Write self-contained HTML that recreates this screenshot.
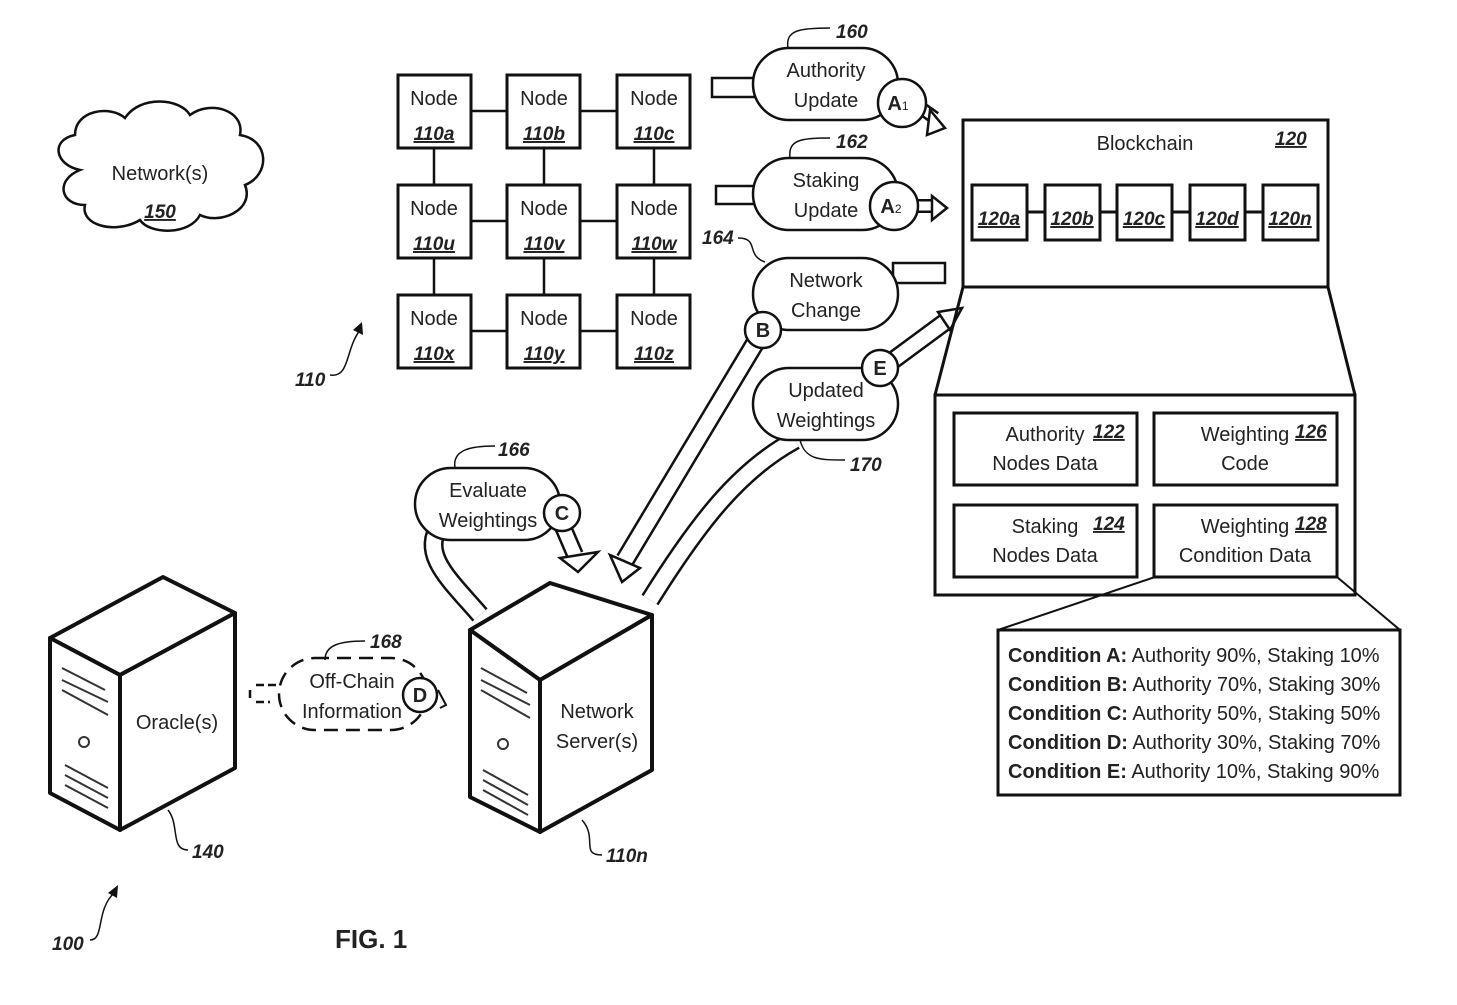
<!DOCTYPE html>
<html><head><meta charset="utf-8"><style>
html,body{margin:0;padding:0;background:#fff}
svg{display:block}
text{font-family:"Liberation Sans",Arial,sans-serif;fill:#222}
.t{font-size:20px;text-anchor:middle}
.l{font-size:19px;font-style:italic;font-weight:bold;text-decoration:underline}
.r{font-size:19px;font-style:italic;font-weight:bold}
.c{font-size:20px}
</style></head><body>
<svg width="1457" height="1005" viewBox="0 0 1457 1005" xmlns="http://www.w3.org/2000/svg">
<g fill="none" stroke="#111" stroke-width="2.5">
<!-- cloud -->
<path d="M80,170 C55,165 50,140 75,135 C75,110 110,105 125,118 C140,95 180,98 190,115 C210,100 245,110 240,135 C270,140 270,175 245,185 C255,210 220,225 200,215 C190,235 150,235 140,220 C115,235 80,225 85,205 C60,205 55,180 80,170 Z"/>
<!-- node grid connectors -->
<path d="M471,111H507M580,111H617M434,148V185M544,148V185M654,148V185M471,221H507M580,221H617M434,258V295M544,258V295M654,258V295M471,331H507M580,331H617"/>
</g>
<g fill="#fff" stroke="#111" stroke-width="3">
<rect x="398" y="75" width="73" height="73"/><rect x="507" y="75" width="73" height="73"/><rect x="617" y="75" width="73" height="73"/>
<rect x="398" y="185" width="73" height="73"/><rect x="507" y="185" width="73" height="73"/><rect x="617" y="185" width="73" height="73"/>
<rect x="398" y="295" width="73" height="73"/><rect x="507" y="295" width="73" height="73"/><rect x="617" y="295" width="73" height="73"/>
</g>
<g class="t">
<text x="434" y="105" class="t">Node</text><text x="544" y="105" class="t">Node</text><text x="654" y="105" class="t">Node</text>
<text x="434" y="215" class="t">Node</text><text x="544" y="215" class="t">Node</text><text x="654" y="215" class="t">Node</text>
<text x="434" y="325" class="t">Node</text><text x="544" y="325" class="t">Node</text><text x="654" y="325" class="t">Node</text>
</g>
<g class="l" text-anchor="middle">
<text x="434" y="140" class="l" text-anchor="middle">110a</text><text x="544" y="140" class="l" text-anchor="middle">110b</text><text x="654" y="140" class="l" text-anchor="middle">110c</text>
<text x="434" y="250" class="l" text-anchor="middle">110u</text><text x="544" y="250" class="l" text-anchor="middle">110v</text><text x="654" y="250" class="l" text-anchor="middle">110w</text>
<text x="434" y="360" class="l" text-anchor="middle">110x</text><text x="544" y="360" class="l" text-anchor="middle">110y</text><text x="654" y="360" class="l" text-anchor="middle">110z</text>
</g>
<text x="160" y="180" class="t">Network(s)</text>
<text x="160" y="218" class="l" text-anchor="middle">150</text>
<text x="295" y="386" class="r">110</text>
<path d="M330,375 C350,378 345,350 360,330" fill="none" stroke="#111" stroke-width="1.5"/>
<path d="M353,330 L362,322 L363,335" fill="#111"/>

<!-- block arrows (bands) -->
<g fill="none" stroke-linecap="butt">
<path d="M760,335 L625,560" stroke="#111" stroke-width="20"/><path d="M760,335 L625,560" stroke="#fff" stroke-width="15"/>
<path d="M795,440 C740,470 700,520 650,600" stroke="#111" stroke-width="20"/><path d="M795,440 C740,470 700,520 650,600" stroke="#fff" stroke-width="15"/>
<path d="M880,370 L945,322" stroke="#111" stroke-width="19"/><path d="M880,370 L945,322" stroke="#fff" stroke-width="14"/>
<path d="M440,525 C420,555 450,580 480,615" stroke="#111" stroke-width="20"/><path d="M440,525 C420,555 450,580 480,615" stroke="#fff" stroke-width="15"/>
<path d="M560,520 L575,555" stroke="#111" stroke-width="18"/><path d="M560,520 L575,555" stroke="#fff" stroke-width="13"/>
<path d="M918,106 L935,118" stroke="#111" stroke-width="14"/><path d="M918,106 L935,118" stroke="#fff" stroke-width="9"/>
<path d="M915,206 L935,206" stroke="#111" stroke-width="14"/><path d="M915,206 L935,206" stroke="#fff" stroke-width="9"/>
</g>
<g fill="#fff" stroke="#111" stroke-width="2.5" stroke-linejoin="miter">
<polygon points="610,555 640,568 622,582"/>
<polygon points="938,312 962,308 950,330"/>
<polygon points="560,558 598,552 578,572"/>
<polygon points="930,110 945,128 927,135"/>
<polygon points="932,196 947,208 932,220"/>
<rect x="712" y="78" width="44" height="19"/>
<rect x="716" y="186" width="40" height="18"/>
<rect x="893" y="263" width="52" height="20"/>
</g>
<!-- ovals -->
<g fill="#fff" stroke="#111" stroke-width="2.5">
<rect x="753" y="48" width="145" height="72" rx="36"/>
<rect x="753" y="158" width="145" height="72" rx="36"/>
<rect x="753" y="258" width="145" height="72" rx="36"/>
<rect x="753" y="368" width="145" height="72" rx="36"/>
<rect x="415" y="468" width="145" height="72" rx="36"/>
<rect x="279" y="658" width="148" height="72" rx="36" stroke-dasharray="14,8"/>
<circle cx="902" cy="103" r="24"/>
<circle cx="894" cy="206" r="24"/>
<circle cx="763" cy="330" r="18"/>
<circle cx="880" cy="368" r="18"/>
<circle cx="562" cy="513" r="18"/>
<circle cx="420" cy="695" r="17"/>
</g>
<path d="M250,690 L250,702 M256,685 H276 M256,702 H270" stroke="#111" stroke-width="2.5" fill="none" stroke-dasharray="8,4"/>
<path d="M438,690 L446,705 L440,708" stroke="#111" stroke-width="2" fill="none"/>
<g class="t">
<text x="826" y="77" class="t">Authority</text><text x="826" y="107" class="t">Update</text>
<text x="826" y="187" class="t">Staking</text><text x="826" y="217" class="t">Update</text>
<text x="826" y="287" class="t">Network</text><text x="826" y="317" class="t">Change</text>
<text x="826" y="397" class="t">Updated</text><text x="826" y="427" class="t">Weightings</text>
<text x="488" y="497" class="t">Evaluate</text><text x="488" y="527" class="t">Weightings</text>
<text x="352" y="688" class="t">Off-Chain</text><text x="352" y="718" class="t">Information</text>
</g>
<g font-weight="bold" text-anchor="middle" font-size="20">
<text x="898" y="110">A<tspan font-size="12" font-weight="normal">1</tspan></text>
<text x="891" y="213">A<tspan font-size="12" font-weight="normal">2</tspan></text>
<text x="763" y="337">B</text><text x="880" y="375">E</text><text x="562" y="520">C</text><text x="420" y="702">D</text>
</g>
<!-- ref labels -->
<g class="r">
<text x="836" y="38" class="r">160</text><text x="836" y="148" class="r">162</text>
<text x="702" y="244" class="r">164</text><text x="850" y="471" class="r">170</text>
<text x="498" y="456" class="r">166</text><text x="370" y="648" class="r">168</text>
<text x="192" y="858" class="r">140</text><text x="606" y="862" class="r">110n</text>
<text x="52" y="950" class="r">100</text>
</g>
<g fill="none" stroke="#111" stroke-width="1.5">
<path d="M788,48 C785,30 800,28 830,28"/><path d="M790,158 C788,140 800,138 830,138"/>
<path d="M738,238 C760,238 745,255 765,262"/><path d="M800,440 C805,460 820,460 845,460"/>
<path d="M455,468 C452,450 470,446 495,446"/><path d="M325,660 C325,645 340,641 365,641"/>
<path d="M168,810 C180,825 170,850 188,850"/><path d="M582,820 C598,838 580,855 602,855"/>
<path d="M90,940 C105,940 95,910 115,892"/>
</g>
<path d="M108,893 L118,885 L117,898 Z" fill="#111"/>

<!-- servers -->
<g fill="#fff" stroke="#111" stroke-width="4" stroke-linejoin="round">
<polygon points="50,638 163,577 235,613 120,675"/>
<polygon points="50,638 120,675 120,830 50,793"/>
<polygon points="120,675 235,613 235,768 120,830"/>
<polygon points="470,630 550,583 652,615 540,680"/>
<polygon points="470,630 540,680 540,832 470,797"/>
<polygon points="540,680 652,615 652,770 540,832"/>
</g>
<g fill="none" stroke="#333" stroke-width="2">
<path d="M62,668 L105,690 M62,680 L108,702 M62,690 L108,715 M65,765 L108,788 M65,775 L108,798 M65,785 L108,808"/>
<circle cx="84" cy="742" r="5"/>
<path d="M481,668 L527,693 M481,680 L530,705 M481,690 L530,718 M483,770 L528,795 M483,780 L528,805 M483,790 L528,815"/>
<circle cx="503" cy="744" r="5"/>
</g>
<text x="177" y="729" class="t">Oracle(s)</text>
<text x="597" y="718" class="t">Network</text><text x="597" y="748" class="t">Server(s)</text>
<text x="335" y="948" font-size="26" font-weight="bold" fill="#222">FIG. 1</text>

<!-- blockchain -->
<g fill="none" stroke="#111" stroke-width="3">
<rect x="963" y="120" width="365" height="167"/>
<path d="M963,287 L935,395 M1328,287 L1355,395"/>
<rect x="935" y="395" width="420" height="200"/>
<path d="M1027,212H1045M1100,212H1117M1172,212H1190M1245,212H1263"/>
<rect x="972" y="185" width="55" height="55"/><rect x="1045" y="185" width="55" height="55"/><rect x="1117" y="185" width="55" height="55"/><rect x="1190" y="185" width="55" height="55"/><rect x="1263" y="185" width="55" height="55"/>
<rect x="954" y="413" width="183" height="72"/><rect x="1154" y="413" width="183" height="72"/>
<rect x="954" y="505" width="183" height="72"/><rect x="1154" y="505" width="183" height="72"/>
<path d="M1155,577 L998,630 M1337,577 L1400,630" stroke-width="2"/>
<rect x="998" y="630" width="402" height="165"/>
</g>
<text x="1145" y="150" class="t">Blockchain</text>
<text x="1275" y="145" class="l">120</text>
<g class="l" text-anchor="middle">
<text x="999" y="225" class="l" text-anchor="middle">120a</text><text x="1072" y="225" class="l" text-anchor="middle">120b</text><text x="1144" y="225" class="l" text-anchor="middle">120c</text><text x="1217" y="225" class="l" text-anchor="middle">120d</text><text x="1290" y="225" class="l" text-anchor="middle">120n</text>
</g>
<text x="1045" y="441" class="t">Authority</text><text x="1045" y="470" class="t">Nodes Data</text>
<text x="1245" y="441" class="t">Weighting</text><text x="1245" y="470" class="t">Code</text>
<text x="1045" y="533" class="t">Staking</text><text x="1045" y="562" class="t">Nodes Data</text>
<text x="1245" y="533" class="t">Weighting</text><text x="1245" y="562" class="t">Condition Data</text>
<text x="1093" y="438" class="l">122</text><text x="1295" y="438" class="l">126</text>
<text x="1093" y="530" class="l">124</text><text x="1295" y="530" class="l">128</text>
<g class="c">
<text x="1008" y="662" class="c"><tspan font-weight="bold">Condition A:</tspan> Authority 90%, Staking 10%</text>
<text x="1008" y="691" class="c"><tspan font-weight="bold">Condition B:</tspan> Authority 70%, Staking 30%</text>
<text x="1008" y="720" class="c"><tspan font-weight="bold">Condition C:</tspan> Authority 50%, Staking 50%</text>
<text x="1008" y="749" class="c"><tspan font-weight="bold">Condition D:</tspan> Authority 30%, Staking 70%</text>
<text x="1008" y="778" class="c"><tspan font-weight="bold">Condition E:</tspan> Authority 10%, Staking 90%</text>
</g>
</svg>
</body></html>
